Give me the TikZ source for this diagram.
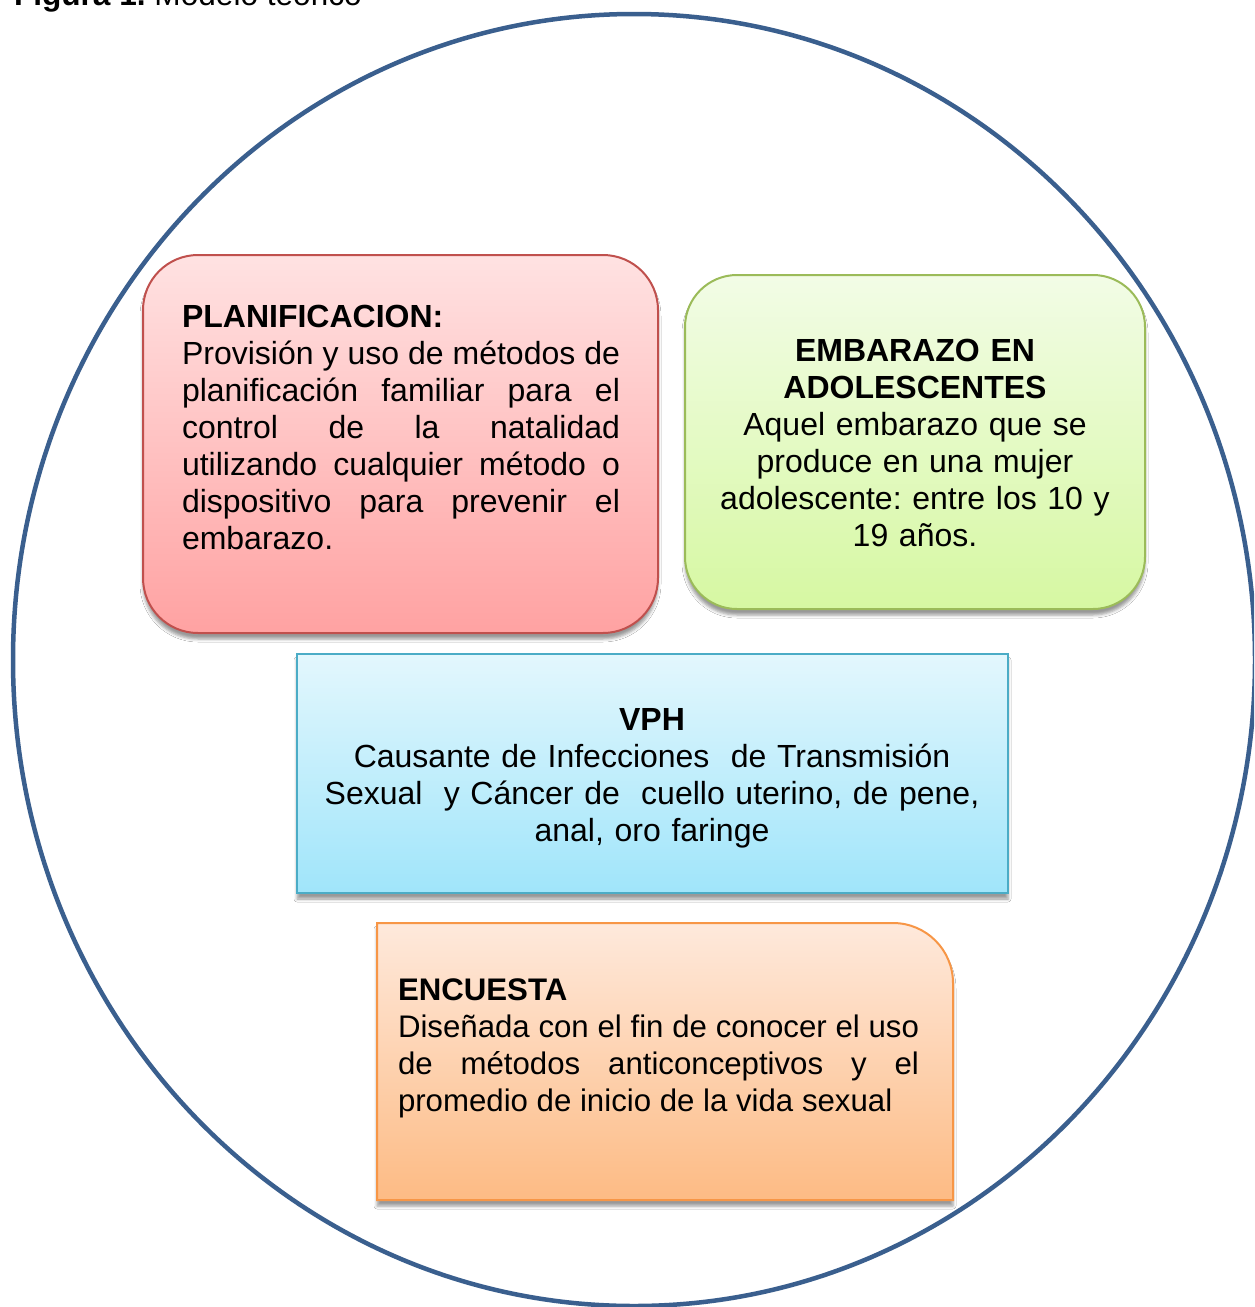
\documentclass[tikz,border=0pt]{standalone}
\usepackage{fontspec}
\setmainfont{Liberation Sans}
\usetikzlibrary{shadows.blur}
\frenchspacing
\definecolor{ringblue}{HTML}{3A5F8E}
\definecolor{redline}{HTML}{C0504D}
\definecolor{redtop}{HTML}{FFE2E2}
\definecolor{redbot}{HTML}{FFA2A2}
\definecolor{greenline}{HTML}{9BBB59}
\definecolor{greentop}{HTML}{F2FCE6}
\definecolor{greenbot}{HTML}{D6F8A2}
\definecolor{blueline}{HTML}{4BACC6}
\definecolor{bluetop}{HTML}{E3F7FD}
\definecolor{bluebot}{HTML}{A0E5FA}
\definecolor{orangeline}{HTML}{F79646}
\definecolor{orangetop}{HTML}{FEE9DC}
\definecolor{orangebot}{HTML}{FDBB84}
\begin{document}
\begin{tikzpicture}[x=1pt,y=-1pt,
  softshadow/.style={blur shadow={shadow xshift=0pt, shadow yshift=-6pt, shadow blur radius=3pt, shadow opacity=40}},
  boxbase/.style={line width=2pt, softshadow},
  redbox/.style={boxbase, draw=redline, top color=redtop, bottom color=redbot, rounded corners=55pt},
  greenbox/.style={boxbase, draw=greenline, top color=greentop, bottom color=greenbot, rounded corners=52pt},
  bluebox/.style={boxbase, draw=blueline, top color=bluetop, bottom color=bluebot},
  orangebox/.style={boxbase, draw=orangeline, top color=orangetop, bottom color=orangebot},
  bodytext/.style={inner sep=0pt, outer sep=0pt, font=\fontsize{32}{37}\selectfont},
  justtext/.style={bodytext, align=justify},
  centtext/.style={bodytext, align=center}
]
\clip (0,0) rectangle (1254,1307);
\fill[white] (0,0) rectangle (1254,1307);

% big circle
\draw[ringblue, line width=4.5pt] (634,660) ellipse [x radius=621, y radius=646];

% title (cut at the top edge, as in the reference)
\node[bodytext, anchor=base west, font=\fontsize{31.6}{37}\selectfont] (title) at (14,5)
  {\textbf{Figura 1.} Modelo teórico};

% boxes
\path[redbox] (143,255) rectangle (658,633);
\path[greenbox] (685,275) rectangle (1145,609);
\path[bluebox] (297,654) rectangle (1008,893);
\path[orangebox] (377,1200) -- (377,923) -- (893,923)
  .. controls (926.1,923) and (953,949.9) .. (953,983) -- (953,1200) -- cycle;

% texts
\node[justtext, anchor=base west, text width=438pt] (plan) at (182,327)
  {\textbf{PLANIFICACION:}\\
   Provisión y uso de métodos de\linebreak
   planificación familiar para el\linebreak
   control de la natalidad\linebreak
   utilizando cualquier método o\linebreak
   dispositivo para prevenir el\linebreak
   embarazo.};

\node[centtext, anchor=base, text width=460pt] (emb) at (915,361)
  {\textbf{EMBARAZO EN}\\
   \textbf{ADOLESCENTES}\\
   Aquel embarazo que se\\
   produce en una mujer\\
   adolescente: entre los 10 y\\
   19 años.};

\node[centtext, anchor=base, text width=700pt] (vph) at (652,730)
  {\textbf{VPH}\\
   Causante de Infecciones\ \ de Transmisión\\
   Sexual\ \ y Cáncer de\ \ cuello uterino, de pene,\\
   anal, oro faringe};

\node[justtext, anchor=base west, text width=521pt, font=\fontsize{31.2}{37}\selectfont] (enc) at (398,1000)
  {\textbf{ENCUESTA}\\
   Diseñada con el fin de conocer el uso\linebreak
   de métodos anticonceptivos y el\linebreak
   promedio de inicio de la vida sexual};
\end{tikzpicture}
\end{document}
